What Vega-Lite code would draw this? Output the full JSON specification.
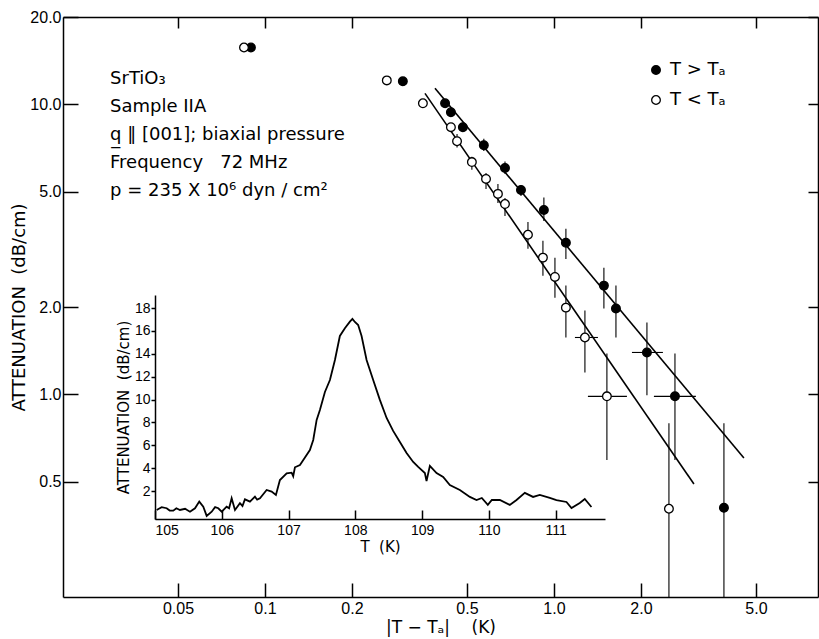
{
  "$schema": "https://vega.github.io/schema/vega-lite/v6.json",
  "width": 755,
  "height": 580,
  "autosize": {"type": "none"},
  "padding": {"left": 63, "top": 17, "right": 1, "bottom": 42},
  "background": "white",
  "datasets": {
    "pts": [
      {"series": "T > Tₐ", "x": 0.0894, "y": 15.7},
      {"series": "T > Tₐ", "x": 0.300, "y": 12.0},
      {"series": "T > Tₐ", "x": 0.420, "y": 10.08},
      {"series": "T > Tₐ", "x": 0.440, "y": 9.39},
      {"series": "T > Tₐ", "x": 0.484, "y": 8.34},
      {"series": "T > Tₐ", "x": 0.572, "y": 7.23, "ylo": 6.9, "yhi": 7.6},
      {"series": "T > Tₐ", "x": 0.677, "y": 6.03, "ylo": 5.75, "yhi": 6.35},
      {"series": "T > Tₐ", "x": 0.769, "y": 5.06, "ylo": 4.83, "yhi": 5.27},
      {"series": "T > Tₐ", "x": 0.923, "y": 4.32, "ylo": 3.96, "yhi": 4.77},
      {"series": "T > Tₐ", "x": 1.100, "y": 3.33, "ylo": 2.93, "yhi": 3.72},
      {"series": "T > Tₐ", "x": 1.489, "y": 2.37, "ylo": 1.975, "yhi": 2.73},
      {"series": "T > Tₐ", "x": 1.639, "y": 1.975, "ylo": 1.57, "yhi": 2.37},
      {"series": "T > Tₐ", "x": 2.098, "y": 1.394, "ylo": 0.992, "yhi": 1.768, "xlo": 1.862, "xhi": 2.383},
      {"series": "T > Tₐ", "x": 2.623, "y": 0.984, "ylo": 0.593, "yhi": 1.383, "xlo": 2.218, "xhi": 3.099},
      {"series": "T > Tₐ", "x": 3.875, "y": 0.406, "ylo": 0.2, "yhi": 0.795},
      {"series": "T < Tₐ", "x": 0.0846, "y": 15.7},
      {"series": "T < Tₐ", "x": 0.264, "y": 12.09},
      {"series": "T < Tₐ", "x": 0.352, "y": 10.08},
      {"series": "T < Tₐ", "x": 0.440, "y": 8.34},
      {"series": "T < Tₐ", "x": 0.462, "y": 7.46, "ylo": 7.1, "yhi": 7.9},
      {"series": "T < Tₐ", "x": 0.520, "y": 6.32, "ylo": 5.95, "yhi": 6.6},
      {"series": "T < Tₐ", "x": 0.582, "y": 5.53, "ylo": 5.10, "yhi": 5.79},
      {"series": "T < Tₐ", "x": 0.640, "y": 4.91, "ylo": 4.57, "yhi": 5.31},
      {"series": "T < Tₐ", "x": 0.677, "y": 4.53, "ylo": 4.12, "yhi": 4.75},
      {"series": "T < Tₐ", "x": 0.813, "y": 3.55, "ylo": 3.175, "yhi": 3.93},
      {"series": "T < Tₐ", "x": 0.916, "y": 2.96, "ylo": 2.564, "yhi": 3.382},
      {"series": "T < Tₐ", "x": 1.008, "y": 2.54, "ylo": 2.154, "yhi": 2.957},
      {"series": "T < Tₐ", "x": 1.100, "y": 1.99, "ylo": 1.57, "yhi": 2.37},
      {"series": "T < Tₐ", "x": 1.280, "y": 1.57, "ylo": 1.19, "yhi": 1.944, "xlo": 1.182, "xhi": 1.42},
      {"series": "T < Tₐ", "x": 1.525, "y": 0.984, "ylo": 0.593, "yhi": 1.383, "xlo": 1.311, "xhi": 1.789},
      {"series": "T < Tₐ", "x": 2.500, "y": 0.403, "ylo": 0.2, "yhi": 0.795}
    ],
    "fits": [
      {"series": "T > Tₐ", "x": 0.3875, "y": 11.35},
      {"series": "T > Tₐ", "x": 4.544, "y": 0.6026},
      {"series": "T < Tₐ", "x": 0.3578, "y": 10.91},
      {"series": "T < Tₐ", "x": 3.051, "y": 0.4905}
    ],
    "inset": [
      {"T": 105.025, "A": 0.35}, {"T": 105.1, "A": 0.6}, {"T": 105.175, "A": 0.50}, {"T": 105.22, "A": 0.3}, {"T": 105.274, "A": 0.29},
      {"T": 105.32, "A": 0.5}, {"T": 105.374, "A": 0.35}, {"T": 105.45, "A": 0.45}, {"T": 105.524, "A": 0.20}, {"T": 105.599, "A": 0.50},
      {"T": 105.663, "A": 1.08}, {"T": 105.723, "A": 0.64}, {"T": 105.774, "A": -0.17},
      {"T": 105.849, "A": 0.20}, {"T": 105.9, "A": 0.6}, {"T": 105.948, "A": 0.50}, {"T": 105.999, "A": 0.20},
      {"T": 106.073, "A": 0.64}, {"T": 106.11, "A": 0.5}, {"T": 106.148, "A": 1.37}, {"T": 106.198, "A": 0.35},
      {"T": 106.272, "A": 0.94}, {"T": 106.31, "A": 0.7}, {"T": 106.347, "A": 1.28}, {"T": 106.422, "A": 1.08},
      {"T": 106.497, "A": 1.51}, {"T": 106.53, "A": 1.25}, {"T": 106.572, "A": 1.37}, {"T": 106.672, "A": 2.10},
      {"T": 106.747, "A": 1.95}, {"T": 106.811, "A": 1.66}, {"T": 106.871, "A": 2.97},
      {"T": 106.972, "A": 3.56}, {"T": 107.046, "A": 3.61}, {"T": 107.07, "A": 3.3}, {"T": 107.096, "A": 4.08},
      {"T": 107.171, "A": 4.28}, {"T": 107.246, "A": 4.94}, {"T": 107.320, "A": 5.59},
      {"T": 107.370, "A": 6.47}, {"T": 107.421, "A": 8.22}, {"T": 107.470, "A": 9.09},
      {"T": 107.545, "A": 10.66}, {"T": 107.620, "A": 11.71}, {"T": 107.695, "A": 13.46},
      {"T": 107.769, "A": 15.56}, {"T": 107.844, "A": 16.23}, {"T": 107.919, "A": 16.81},
      {"T": 107.957, "A": 17.05}, {"T": 107.994, "A": 16.78}, {"T": 108.043, "A": 16.52},
      {"T": 108.094, "A": 15.56}, {"T": 108.169, "A": 13.46}, {"T": 108.268, "A": 11.71},
      {"T": 108.368, "A": 9.97}, {"T": 108.469, "A": 8.39}, {"T": 108.567, "A": 7.26},
      {"T": 108.668, "A": 6.29}, {"T": 108.768, "A": 5.33}, {"T": 108.867, "A": 4.55},
      {"T": 108.942, "A": 4.11}, {"T": 109.042, "A": 3.58}, {"T": 109.067, "A": 2.88},
      {"T": 109.117, "A": 4.20}, {"T": 109.217, "A": 3.58}, {"T": 109.316, "A": 3.23},
      {"T": 109.416, "A": 2.53}, {"T": 109.566, "A": 2.10}, {"T": 109.716, "A": 1.49},
      {"T": 109.816, "A": 1.22}, {"T": 109.895, "A": 1.40}, {"T": 109.985, "A": 0.79},
      {"T": 110.045, "A": 1.22}, {"T": 110.165, "A": 1.22}, {"T": 110.314, "A": 0.79},
      {"T": 110.415, "A": 1.22}, {"T": 110.539, "A": 1.84}, {"T": 110.663, "A": 1.49},
      {"T": 110.763, "A": 1.66}, {"T": 110.913, "A": 1.40}, {"T": 111.013, "A": 1.22},
      {"T": 111.163, "A": 1.05}, {"T": 111.238, "A": 0.52}, {"T": 111.362, "A": 0.96},
      {"T": 111.437, "A": 1.31}, {"T": 111.537, "A": 0.61}
    ]
  },
  "layer": [
    {
      "layer": [
        {
          "data": {"name": "fits"},
          "mark": {"type": "line", "color": "black", "strokeWidth": 1.6},
          "encoding": {
            "x": {"field": "x", "type": "quantitative",
              "scale": {"type": "log", "domain": [0.02, 8.2], "nice": false},
              "axis": {"orient": "bottom", "values": [0.05, 0.1, 0.2, 0.5, 1, 2, 5],
                "labelExpr": "datum.value < 0.09 ? '0.05' : format(datum.value, '.1f')",
                "tickSize": -14, "labelPadding": 17, "labelFont": "Liberation Sans", "labelFontSize": 16,
                "title": "|T − Tₐ|\u00a0\u00a0\u00a0\u00a0(K)", "titleFont": "DejaVu Sans", "titleFontSize": 17, "titleFontWeight": "normal", "titlePadding": 3}},
            "y": {"field": "y", "type": "quantitative",
              "scale": {"type": "log", "domain": [0.2, 20], "nice": false},
              "axis": {"orient": "left", "values": [0.5, 1, 2, 5, 10, 20],
                "format": ".1f", "tickSize": -15, "labelPadding": 17, "labelFont": "Liberation Sans", "labelFontSize": 16,
                "title": "ATTENUATION\u00a0\u00a0(dB/cm)", "titleFont": "DejaVu Sans", "titleFontSize": 18, "titleFontWeight": "normal", "titlePadding": 1}},
            "detail": {"field": "series"}
          }
        },
        {
          "data": {"name": "pts"},
          "transform": [{"filter": "isValid(datum.ylo)"}],
          "mark": {"type": "rule", "color": "black", "strokeWidth": 1.1},
          "encoding": {
            "x": {"field": "x", "type": "quantitative", "scale": {"type": "log", "domain": [0.02, 8.2], "nice": false}},
            "y": {"field": "ylo", "type": "quantitative", "scale": {"type": "log", "domain": [0.2, 20], "nice": false}},
            "y2": {"field": "yhi"}
          }
        },
        {
          "data": {"name": "pts"},
          "transform": [{"filter": "isValid(datum.xlo)"}],
          "mark": {"type": "rule", "color": "black", "strokeWidth": 1.1},
          "encoding": {
            "x": {"field": "xlo", "type": "quantitative", "scale": {"type": "log", "domain": [0.02, 8.2], "nice": false}},
            "x2": {"field": "xhi"},
            "y": {"field": "y", "type": "quantitative", "scale": {"type": "log", "domain": [0.2, 20], "nice": false}}
          }
        },
        {
          "data": {"name": "pts"},
          "mark": {"type": "point", "filled": true, "size": 75, "stroke": "black", "strokeWidth": 1.3, "opacity": 1},
          "encoding": {
            "x": {"field": "x", "type": "quantitative", "scale": {"type": "log", "domain": [0.02, 8.2], "nice": false}},
            "y": {"field": "y", "type": "quantitative", "scale": {"type": "log", "domain": [0.2, 20], "nice": false}},
            "fill": {"field": "series", "type": "nominal",
              "scale": {"domain": ["T > Tₐ", "T < Tₐ"], "range": ["black", "white"]},
              "legend": {"orient": "none", "legendX": 584, "legendY": 44, "title": null,
                "symbolType": "circle", "symbolSize": 75, "symbolStrokeColor": "black", "symbolStrokeWidth": 1.3,
                "labelFont": "DejaVu Sans", "labelFontSize": 18, "labelColor": "black", "rowPadding": 12, "padding": 0, "labelOffset": 5}}
          }
        },
        {
          "data": {"values": [{}]},
          "mark": {"type": "text", "align": "left", "baseline": "alphabetic", "font": "DejaVu Sans", "fontSize": 18, "lineHeight": 28, "color": "black"},
          "encoding": {
            "x": {"datum": 0.0291, "type": "quantitative", "scale": {"type": "log", "domain": [0.02, 8.2], "nice": false}},
            "y": {"datum": 11.71, "type": "quantitative", "scale": {"type": "log", "domain": [0.2, 20], "nice": false}},
            "text": {"value": ["SrTiO₃", "Sample IIA", "q̲ ‖ [001]; biaxial pressure", "Frequency\u00a0\u00a0 72 MHz", "p = 235 X 10⁶ dyn / cm²"]}
          }
        }
      ]
    },
    {
      "data": {"name": "fits"},
      "mark": {"type": "point", "opacity": 0},
      "encoding": {
        "x": {"field": "x", "type": "quantitative",
          "scale": {"type": "log", "domain": [0.02, 8.2], "nice": false},
          "axis": {"orient": "top", "values": [0.05, 0.1, 0.2, 0.5, 1, 2, 5], "labels": false, "tickSize": -11, "title": null}},
        "y": {"field": "y", "type": "quantitative",
          "scale": {"type": "log", "domain": [0.2, 20], "nice": false},
          "axis": {"orient": "right", "values": [0.5, 1, 2, 5, 10, 20], "labels": false, "tickSize": -10, "title": null}}
      }
    },
    {
      "data": {"name": "inset"},
      "mark": {"type": "line", "color": "black", "strokeWidth": 1.8},
      "encoding": {
        "x": {"field": "T", "type": "quantitative",
          "scale": {"domain": [105, 111.74], "range": [92, 542], "nice": false, "zero": false},
          "axis": {"orient": "bottom", "offset": -78, "values": [105, 106, 107, 108, 109, 110, 111],
            "tickSize": -9, "labelPadding": 13, "labelFont": "Liberation Sans", "labelFontSize": 14,
            "title": "T\u00a0\u00a0(K)", "titleFont": "DejaVu Sans", "titleFontSize": 15, "titleFontWeight": "normal", "titlePadding": 2}},
        "y": {"field": "A", "type": "quantitative",
          "scale": {"domain": [-0.44, 19.14], "range": [502, 278], "nice": false, "zero": false},
          "axis": {"orient": "left", "offset": -92, "values": [2, 4, 6, 8, 10, 12, 14, 16, 18],
            "tickSize": 4, "labelPadding": 1, "labelFont": "Liberation Sans", "labelFontSize": 14,
            "title": "ATTENUATION\u00a0\u00a0(dB/cm)", "titleFont": "DejaVu Sans", "titleFontSize": 15, "titleFontWeight": "normal", "titlePadding": 3}}
      }
    }
  ],
  "resolve": {"scale": {"x": "independent", "y": "independent"}, "axis": {"x": "independent", "y": "independent"}},
  "config": {
    "view": {"stroke": null},
    "axis": {"grid": false, "domainColor": "black", "domainWidth": 1.5, "tickColor": "black", "tickWidth": 1.5, "labelColor": "black", "titleColor": "black"}
  }
}
